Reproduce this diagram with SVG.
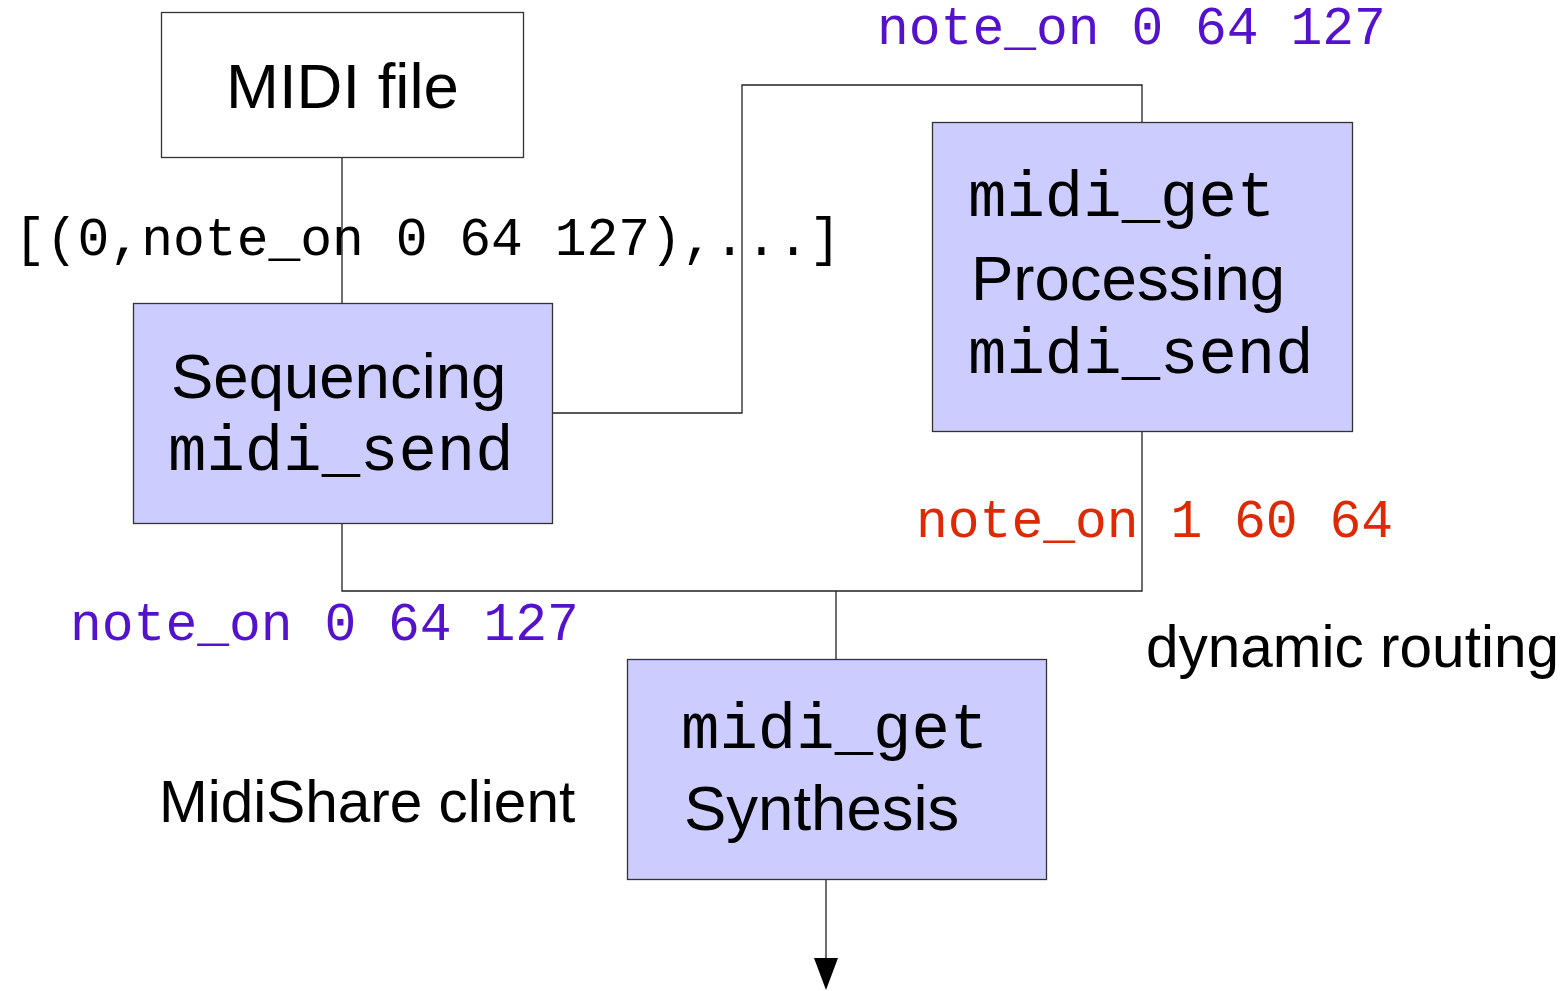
<svg xmlns="http://www.w3.org/2000/svg" width="1564" height="991" viewBox="0 0 1564 991">
  <style>
    .box { stroke: #333333; stroke-width: 1.3; }
    .plain { fill: #ffffff; }
    .blue { fill: #ccccff; }
    .wire { fill: none; stroke: #222222; stroke-width: 1.3; }
    .sans { font-family: "Liberation Sans", Arial, sans-serif; fill: #000000; }
    .mono { font-family: "Liberation Mono", "Courier New", monospace; fill: #000000; }
    .big { font-size: 63.5px; }
    .code { font-size: 64px; }
    .msg { font-size: 53px; }
    .note { font-size: 58.5px; }
    .violet { fill: #5512cc; }
    .red { fill: #dd2a05; }
  </style>

  <!-- connectors -->
  <g id="connectors">
    <path class="wire" d="M342,157 V303"/>
    <path class="wire" d="M552,413 H742 V85 H1142 V122"/>
    <path class="wire" d="M342,523 V591 H1142 V431"/>
    <path class="wire" d="M836,591 V659"/>
    <path class="wire" d="M826,879 V958"/>
    <path d="M814,958 L838,958 L826,990 Z" fill="#000000"/>
  </g>

  <!-- free labels -->
  <g id="labels">
    <text class="mono msg" x="14" y="255">[(0,note_on 0 64 127),...]</text>
    <text class="mono msg violet" x="877" y="44">note_on 0 64 127</text>
    <text class="mono msg red" x="916" y="537">note_on 1 60 64</text>
    <text class="mono msg violet" x="70" y="640">note_on 0 64 127</text>
    <text class="sans note" x="1146" y="667">dynamic routing</text>
    <text class="sans note" x="159" y="822">MidiShare client</text>
  </g>

  <g id="midi-file">
    <rect class="box plain" x="161.5" y="12.5" width="362" height="145"/>
    <text class="sans big" x="226" y="108">MIDI file</text>
  </g>

  <g id="sequencing">
    <rect class="box blue" x="133.5" y="303.5" width="419" height="220"/>
    <text class="sans big" x="171" y="398">Sequencing</text>
    <text class="mono code" x="168" y="470">midi_send</text>
  </g>

  <g id="processing">
    <rect class="box blue" x="932.5" y="122.5" width="420" height="309"/>
    <text class="mono code" x="968" y="216">midi_get</text>
    <text class="sans big" x="971" y="300">Processing</text>
    <text class="mono code" x="968" y="373">midi_send</text>
  </g>

  <g id="synthesis">
    <rect class="box blue" x="627.5" y="659.5" width="419" height="220"/>
    <text class="mono code" x="681" y="748">midi_get</text>
    <text class="sans big" x="684" y="830">Synthesis</text>
  </g>
</svg>
